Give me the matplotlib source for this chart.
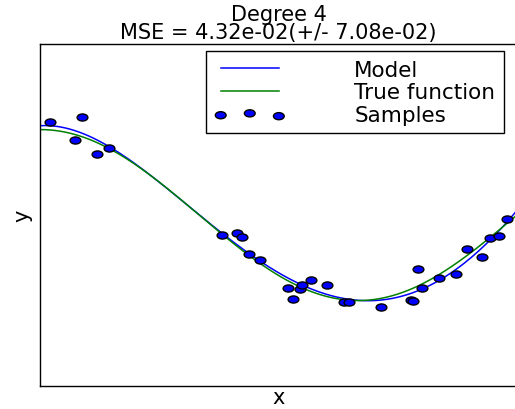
import numpy as np
import matplotlib
matplotlib.use("Agg")
import matplotlib.pyplot as plt
from matplotlib.path import Path

plt.style.use("classic")

# samples
x_samples = [0.019, 0.072, 0.087, 0.118, 0.143, 0.382, 0.413, 0.424, 0.438, 0.461,
             0.520, 0.530, 0.545, 0.550, 0.568, 0.602, 0.638, 0.647, 0.715, 0.777,
             0.781, 0.793, 0.800, 0.836, 0.872, 0.895, 0.926, 0.944, 0.963, 0.979]
y_samples = [1.09, 0.88, 1.15, 0.71, 0.79, -0.23, -0.21, -0.26, -0.45, -0.52,
             -0.85, -0.98, -0.86, -0.82, -0.76, -0.82, -1.02, -1.02, -1.07, -0.99,
             -1.01, -0.63, -0.85, -0.74, -0.69, -0.40, -0.49, -0.27, -0.25, -0.05]
degree = 4
true_freq = 1.5
title_text = "Degree {}\nMSE = 4.32e-02(+/- 7.08e-02)".format(degree)

x_samples = np.array(x_samples)
y_samples = np.array(y_samples)

# the reference looks stretched sideways, so the dots are flat ellipses
circ = Path.unit_circle()
flat_dot = Path(circ.vertices * [1.0, 0.66], circ.codes)

fig = plt.figure(figsize=(5.15, 4.10), dpi=100, facecolor="white")
ax = fig.add_axes([0.0786, 0.056, 0.925, 0.834])

# polynomial model fitted to the samples
coefs = np.polyfit(x_samples, y_samples, degree)
x_test = np.linspace(0, 1, 200)
ax.plot(x_test, np.polyval(coefs, x_test), color="b", lw=1.1, label="Model")
ax.plot(x_test, np.cos(true_freq * np.pi * x_test), color="g", lw=1.1, label="True function")
ax.scatter(x_samples, y_samples, s=60, c="b", marker=flat_dot, edgecolors="k",
           linewidths=1, label="Samples", zorder=3)

ax.set_xlim(0, 1)
ax.set_ylim(-2, 2)
ax.set_xticks(())
ax.set_yticks(())
ax.set_xlabel("x", fontsize=15, labelpad=1)
ax.set_ylabel("y", fontsize=15, labelpad=6)
ax.set_title(title_text, fontsize=15, linespacing=0.88, y=0.998)
ax.legend(loc="upper right", bbox_to_anchor=(0.9726, 0.9795), borderaxespad=0,
          fontsize=15.5, handlelength=3.3, handletextpad=3.2, borderpad=0.4,
          labelspacing=0.12)

fig.savefig("out.png", dpi=100, facecolor="white")
